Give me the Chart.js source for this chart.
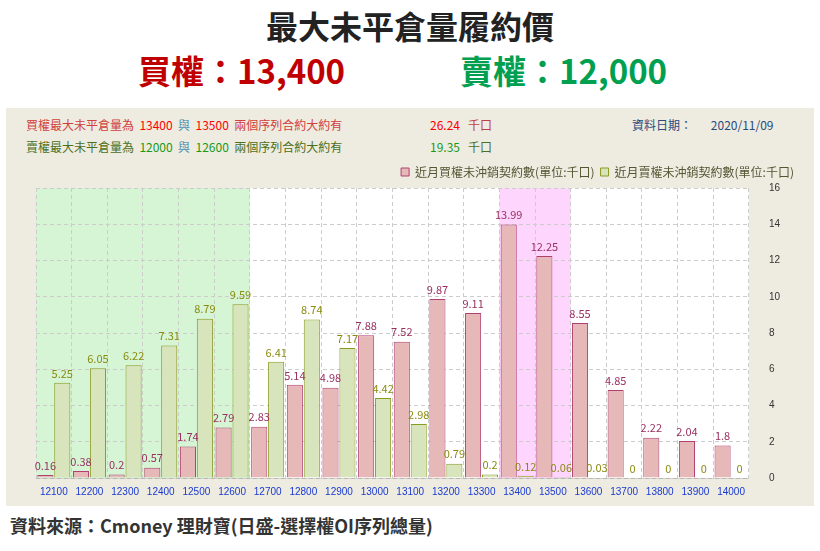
<!DOCTYPE html>
<html><head><meta charset="utf-8">
<script src="https://cdn.jsdelivr.net/npm/chart.js@4"></script>
<style>
body{margin:0;width:820px;height:551px;background:#fff;font-family:"Noto Sans CJK TC","Noto Sans",sans-serif;position:relative;overflow:hidden}
.t1{position:absolute;top:2px;left:0;width:820px;text-align:center;font-size:32px;font-weight:bold;color:#222}
.t2{position:absolute;top:46px;left:138px;font-size:33px;font-weight:bold;color:#c00000}
.t3{position:absolute;top:46px;left:460px;font-size:33px;font-weight:bold;color:#00a050}
.panel{position:absolute;left:6px;top:108px;width:808px;height:398px;background:#eeebe0}
.info{position:absolute;font-size:12px;white-space:nowrap}
.src{position:absolute;left:10px;top:512px;font-size:18px;color:#333;font-weight:bold}
#wrap{position:absolute;left:6px;top:160px;width:808px;height:346px}
</style></head><body>
<div class="t1">最大未平倉量履約價</div>
<div class="t2">買權：13,400</div>
<div class="t3">賣權：12,000</div>
<div class="panel"></div>
<div class="info" style="left:26px;top:116px;color:#d04040">買權最大未平倉量為 &nbsp;<span style="color:#f00">13400</span> &nbsp;<span style="color:#4a90b0">與</span> &nbsp;<span style="color:#f00">13500</span> &nbsp;兩個序列合約大約有</div>
<div class="info" style="left:26px;top:138px;color:#4a7020">賣權最大未平倉量為 &nbsp;<span style="color:#1a9a1a">12000</span> &nbsp;<span style="color:#4a90b0">與</span> &nbsp;<span style="color:#1a9a1a">12600</span> &nbsp;兩個序列合約大約有</div>
<div class="info" style="left:430px;top:116px;color:#f00">26.24 &nbsp;&nbsp;<span style="color:#c04040">千口</span></div>
<div class="info" style="left:430px;top:138px;color:#1a9a1a">19.35 &nbsp;&nbsp;<span style="color:#4a7020">千口</span></div>
<div class="info" style="left:632px;top:116px;color:#2a4a7a">資料日期： &nbsp;&nbsp;&nbsp;&nbsp;&nbsp;&nbsp;2020/11/09</div>
<div id="wrap"><canvas id="c"></canvas></div>
<div class="src">資料來源：Cmoney 理財寶(日盛-選擇權OI序列總量)</div>
<script>
const categories = ['12100','12200','12300','12400','12500','12600','12700','12800','12900','13000','13100','13200','13300','13400','13500','13600','13700','13800','13900','14000'];
const callOI = [0.16,0.38,0.2,0.57,1.74,2.79,2.83,5.14,4.98,7.88,7.52,9.87,9.11,13.99,12.25,8.55,4.85,2.22,2.04,1.8];
const putOI = [5.25,6.05,6.22,7.31,8.79,9.59,6.41,8.74,7.17,4.42,2.98,0.79,0.2,0.12,0.06,0.03,0,0,0,0];
const yTicks = [0,2,4,6,8,10,12,14,16];
const putBand = [0,5];
const callBand = [13,14];

const bands = {
  id:'bands',
  beforeDraw(ch){
    const {ctx, chartArea:a, scales:{x}} = ch;
    ctx.save();
    ctx.fillStyle='#fff'; ctx.fillRect(a.left,a.top,a.right-a.left,a.bottom-a.top);
    const half = (x.getPixelForValue(1)-x.getPixelForValue(0))/2;
    const fill=(r,c)=>{const l=x.getPixelForValue(r[0])-half, rr=x.getPixelForValue(r[1])+half; ctx.fillStyle=c; ctx.fillRect(l,a.top,rr-l,a.bottom-a.top);};
    fill(putBand,'#d5f5d5'); fill(callBand,'#fdd5fd');
    ctx.restore();
  }
};
const labels = {
  id:'labels',
  afterDatasetsDraw(ch){
    const ctx=ch.ctx; ctx.save(); ctx.font='11px "Noto Sans CJK TC",sans-serif'; ctx.textAlign='center'; ctx.textBaseline='bottom';
    ch.data.datasets.forEach((ds,i)=>{
      ctx.fillStyle = i===0?'#9a3060':'#8a8a10';
      ch.getDatasetMeta(i).data.forEach((b,j)=>ctx.fillText(ds.data[j], b.x, b.y-4));
    });
    ctx.restore();
  }
};
new Chart(document.getElementById('c'),{
  type:'bar',
  data:{labels:categories,datasets:[
    {label:'近月買權未沖銷契約數(單位:千口)',data:callOI,backgroundColor:'#e6b8b8',borderColor:'#b04070',borderWidth:1,categoryPercentage:0.95,barPercentage:0.95},
    {label:'近月賣權未沖銷契約數(單位:千口)',data:putOI,backgroundColor:'#d8e4bc',borderColor:'#8a9a20',borderWidth:1,categoryPercentage:0.95,barPercentage:0.95}
  ]},
  options:{responsive:true,maintainAspectRatio:false,animation:false,
    layout:{padding:{left:30,right:14,top:0,bottom:0}},
    plugins:{legend:{align:'end',labels:{boxWidth:8,boxHeight:8,color:'#553',padding:6,font:{size:12,family:'"Noto Sans CJK TC"'}}},tooltip:{enabled:false}},
    scales:{
      x:{grid:{color:'#ccc',tickLength:0,drawTicks:false},border:{dash:[4,3]},ticks:{color:'#1a3ad0',font:{size:10},padding:8}},
      y:{position:'right',min:0,max:16,afterBuildTicks:s=>{s.ticks=yTicks.map(v=>({value:v}));},
        grid:{color:'#ccc',drawTicks:false},border:{display:false,dash:[4,3]},ticks:{color:'#333',font:{size:10},padding:20}}
    }
  },
  plugins:[bands,labels]
});
</script>
</body></html>
